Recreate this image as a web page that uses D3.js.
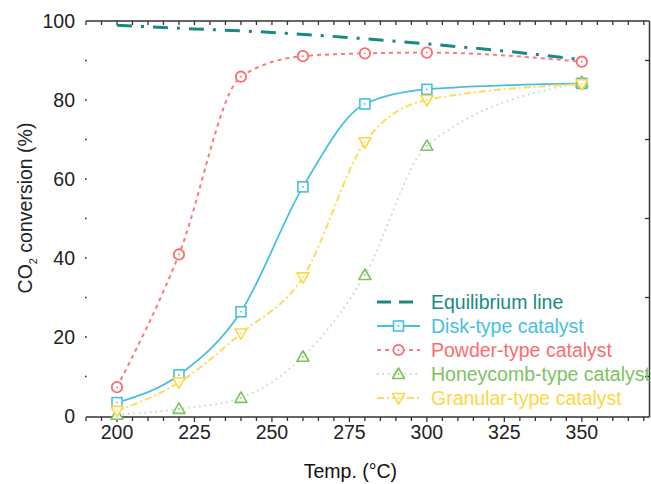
<!DOCTYPE html>
<html>
<head>
<meta charset="utf-8">
<script src="https://cdn.jsdelivr.net/npm/d3@7"></script>
<style>
  body { margin: 0; background: #fff; }
  svg { display: block; font-family: "Liberation Sans", Arial, sans-serif; }
</style>
</head>
<body>
<script>
// data
const temps = [200, 220, 240, 260, 280, 300, 350];
const eqTemps = [200, 225, 250, 275, 300, 325, 350];
const equilibrium = [98.9, 98.0, 97.1, 95.8, 94.2, 92.4, 90.2];
const disk = [3.4, 10.4, 26.4, 58.0, 79.0, 82.7, 84.2];
const powder = [7.3, 40.9, 85.9, 91.1, 91.8, 92.0, 89.7];
const honeycomb = [0.3, 1.8, 4.6, 15.0, 35.7, 68.4, 84.5];
const granular = [1.3, 8.5, 20.9, 35.1, 69.3, 80.0, 84.0];
const xTicks = [200, 225, 250, 275, 300, 325, 350];
const yTicks = [0, 20, 40, 60, 80, 100];

const width = 651, height = 484;
const x = d3.scaleLinear().domain([190, 372]).range([86, 650]);
const y = d3.scaleLinear().domain([0, 100]).range([416, 21]);

const svg = d3.select("body").append("svg")
  .attr("width", width).attr("height", height);

const frame = "#333";
const fs = 19.5;
// frame: top, bottom, right (no left line in the original)
svg.append("line").attr("x1", 86).attr("x2", 649.5).attr("y1", y(100)).attr("y2", y(100))
  .attr("stroke", frame).attr("stroke-width", 1.5);
svg.append("line").attr("x1", 86).attr("x2", 649.5).attr("y1", y(0) + 1).attr("y2", y(0) + 1)
  .attr("stroke", frame).attr("stroke-width", 1.5);
svg.append("line").attr("x1", 649.5).attr("x2", 649.5).attr("y1", y(100)).attr("y2", y(0) + 1)
  .attr("stroke", frame).attr("stroke-width", 1.5);

// x ticks every 5
const minorX = d3.range(190, 371, 5);
svg.append("g").selectAll("line.b").data(minorX).join("line")
  .attr("x1", d => x(d)).attr("x2", d => x(d))
  .attr("y1", y(0) + 1).attr("y2", d => y(0) + (d % 25 === 0 ? 6 : 5))
  .attr("stroke", frame).attr("stroke-width", 1.3);
svg.append("g").selectAll("line.t").data(minorX).join("line")
  .attr("x1", d => x(d)).attr("x2", d => x(d))
  .attr("y1", y(100)).attr("y2", y(100) + 4)
  .attr("stroke", frame).attr("stroke-width", 1.3);

svg.append("g").selectAll("text").data(xTicks).join("text")
  .attr("x", d => x(d)).attr("y", 439)
  .attr("text-anchor", "middle").attr("font-size", fs).attr("fill", "#222")
  .text(d => d);

// left ticks: tiny dots
svg.append("g").selectAll("rect").data(d3.range(10, 100, 10)).join("rect")
  .attr("x", 85).attr("y", d => y(d) - 0.8).attr("width", 1.6).attr("height", 1.6)
  .attr("fill", frame);
// right ticks
svg.append("g").selectAll("line").data([10, 30, 50, 70, 90]).join("line")
  .attr("x1", 645).attr("x2", 649.5).attr("y1", d => y(d)).attr("y2", d => y(d))
  .attr("stroke", frame).attr("stroke-width", 1.3);

svg.append("g").selectAll("text").data(yTicks).join("text")
  .attr("x", 75).attr("y", d => y(d) + 7)
  .attr("text-anchor", "end").attr("font-size", fs).attr("fill", "#222")
  .text(d => d);

// axis titles
svg.append("text").attr("x", x(275) + 1).attr("y", 478)
  .attr("text-anchor", "middle").attr("font-size", fs).attr("fill", "#111")
  .text("Temp. (°C)");
const yt = svg.append("text")
  .attr("transform", "translate(32,208) rotate(-90)")
  .attr("text-anchor", "middle").attr("font-size", fs).attr("fill", "#222");
yt.append("tspan").text("CO");
yt.append("tspan").attr("font-size", 11).attr("dy", 5).text("2");
yt.append("tspan").attr("dy", -5).text(" conversion (%)");

// series
const series = [
  { name: "Disk-type catalyst", values: disk, color: "#47c0df", dash: null, width: 1.8, marker: "square", lineColor: "#47c0df" },
  { name: "Powder-type catalyst", values: powder, color: "#ff6b70", dash: "4,4", width: 2, marker: "circle", lineColor: "#ff7a7e" },
  { name: "Honeycomb-type catalyst", values: honeycomb, color: "#7cc35e", dash: "1.5,4", width: 2, marker: "up", lineColor: "#bfe2ad" },
  { name: "Granular-type catalyst", values: granular, color: "#ffd646", dash: "7,3,2,3", width: 2, marker: "down", lineColor: "#ffdc5c" }
];

const line = d3.line().curve(d3.curveMonotoneX);

// equilibrium line
const eqColor = "#178a84";
svg.append("path")
  .attr("d", line(eqTemps.map((t, i) => [x(t), y(equilibrium[i])])))
  .attr("fill", "none").attr("stroke", eqColor).attr("stroke-width", 3)
  .attr("stroke-dasharray", "15,9,3,9");

series.forEach(s => {
  svg.append("path")
    .attr("d", line(temps.map((t, i) => [x(t), y(s.values[i])])))
    .attr("fill", "none").attr("stroke", s.lineColor).attr("stroke-width", s.width)
    .attr("stroke-dasharray", s.dash);
});

function drawMarker(g, type, color, cx, cy) {
  if (type === "square") {
    g.append("rect").attr("x", cx - 5).attr("y", cy - 5).attr("width", 10).attr("height", 10)
      .attr("fill", "#fff").attr("stroke", color).attr("stroke-width", 1.6);
  } else if (type === "circle") {
    g.append("circle").attr("cx", cx).attr("cy", cy).attr("r", 5.2)
      .attr("fill", "#fff").attr("stroke", color).attr("stroke-width", 1.8);
  } else {
    const s = type === "up" ? -1 : 1;
    const pts = [[cx - 6, cy - s * 4.5], [cx + 6, cy - s * 4.5], [cx, cy + s * 6]];
    g.append("path").attr("d", "M" + pts.join("L") + "Z")
      .attr("fill", "#fff").attr("stroke", color).attr("stroke-width", 1.6)
      .attr("stroke-linejoin", "round");
  }
  g.append("circle").attr("cx", cx).attr("cy", cy).attr("r", 0.9).attr("fill", color);
}

series.forEach(s => {
  const g = svg.append("g");
  temps.forEach((t, i) => drawMarker(g, s.marker, s.color, x(t), y(s.values[i])));
});

// legend
const legend = svg.append("g");
const ly = [302, 326, 350, 374, 398];
const lx0 = 377, lx1 = 420, ltx = 431;
legend.append("line").attr("x1", lx0).attr("x2", lx1).attr("y1", ly[0]).attr("y2", ly[0])
  .attr("stroke", eqColor).attr("stroke-width", 3).attr("stroke-dasharray", "14,8");
legend.append("text").attr("x", ltx).attr("y", ly[0] + 7).attr("font-size", fs)
  .attr("fill", eqColor).text("Equilibrium line");
series.forEach((s, i) => {
  legend.append("line").attr("x1", lx0).attr("x2", lx1).attr("y1", ly[i + 1]).attr("y2", ly[i + 1])
    .attr("stroke", s.lineColor).attr("stroke-width", s.width).attr("stroke-dasharray", s.dash);
  drawMarker(legend, s.marker, s.color, (lx0 + lx1) / 2, ly[i + 1]);
  legend.append("text").attr("x", ltx).attr("y", ly[i + 1] + 7).attr("font-size", fs)
    .attr("fill", s.color).text(s.name);
});
</script>
</body>
</html>
